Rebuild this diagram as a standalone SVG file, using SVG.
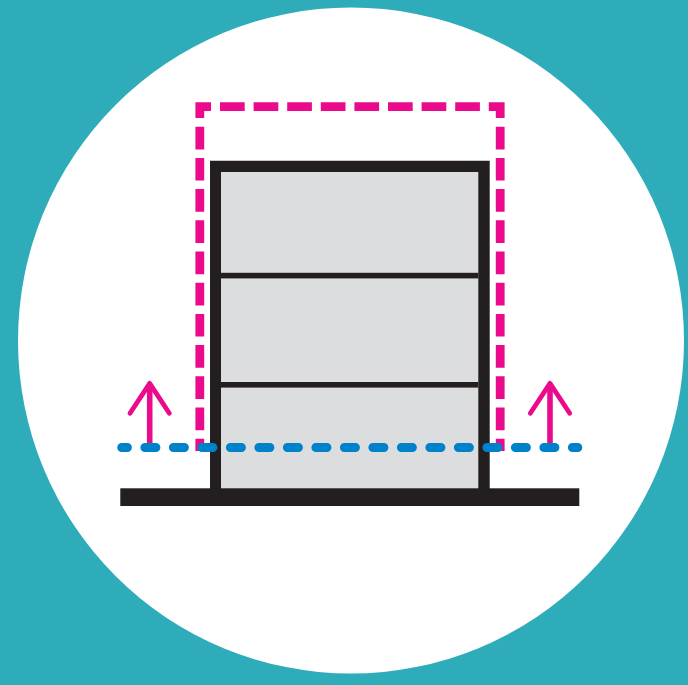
<svg xmlns="http://www.w3.org/2000/svg" width="688" height="685" viewBox="0 0 688 685">
<style>
.pink{fill:none;stroke:#ec0a8c;stroke-width:8.8}
.h{stroke-dasharray:24.7 8.9}
.v{stroke-dasharray:22.7 8.5}
.shaft{fill:none;stroke:#ec0a8c;stroke-width:5.6}
.arrow{fill:none;stroke:#ec0a8c;stroke-width:4.8;stroke-linecap:round;stroke-linejoin:round}
.black{fill:#231f20}
</style>
<rect width="688" height="685" fill="#2eacb9"/>
<circle cx="351" cy="340.5" r="333" fill="#fff"/>
<g id="zone">
<path class="pink" d="M199.8 118V106.6H211"/>
<path class="pink h" d="M220 106.6H480"/>
<path class="pink" d="M488.8 106.6H500.2V118"/>
<path class="pink v" d="M199.8 126.7V451"/>
<path class="pink v" d="M500.2 126.7V451"/>
</g>
<g id="building">
<rect x="215.5" y="166.3" width="268.7" height="327" fill="#dcddde"/>
<path class="black" d="M210 160.7H489.7V490H478.3V172H221V490H210Z"/>
<rect class="black" x="221" y="272.8" width="257.3" height="5.6"/>
<rect class="black" x="221" y="382" width="257.3" height="5.6"/>
<rect class="black" x="120.3" y="488.3" width="459" height="17.7"/>
</g>
<g id="arrow-left">
<path class="shaft" d="M149.7 443V386"/>
<path class="arrow" d="M130 413.2L149.7 383.4L169.3 413.2"/>
</g>
<g id="arrow-right">
<path class="shaft" d="M550 443V386"/>
<path class="arrow" d="M530.3 413.2L550 383.4L569.7 413.2"/>
</g>
<g id="connectors">
<path d="M121.7 447.5H577.8" fill="none" stroke="#0082ca" stroke-width="9" stroke-linecap="round" stroke-dasharray="11 17.5" stroke-dashoffset="5.3"/>
</g>
</svg>
